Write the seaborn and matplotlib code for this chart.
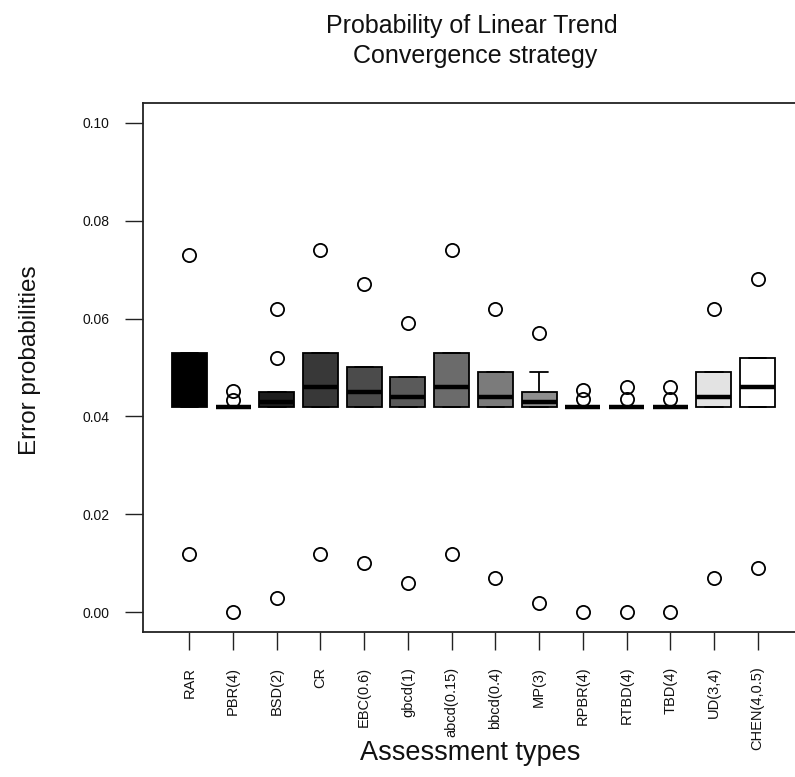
import matplotlib
matplotlib.use("Agg")
import matplotlib.pyplot as plt
import seaborn as sns
import pandas as pd

# Assessment types on the x axis
categories = ["RAR", "PBR(4)", "BSD(2)", "CR", "EBC(0.6)", "gbcd(1)", "abcd(0.15)",
              "bbcd(0.4)", "MP(3)", "RPBR(4)", "RTBD(4)", "TBD(4)", "UD(3,4)", "CHEN(4,0.5)"]

# Five-number summaries of the error probabilities per assessment type
q1_vals = [0.042, 0.042, 0.042, 0.042, 0.042, 0.042, 0.042,
           0.042, 0.042, 0.042, 0.042, 0.042, 0.042, 0.042]
median_vals = [0.046, 0.042, 0.043, 0.046, 0.045, 0.044, 0.046,
               0.044, 0.043, 0.042, 0.042, 0.042, 0.044, 0.046]
q3_vals = [0.053, 0.042, 0.045, 0.053, 0.050, 0.048, 0.053,
           0.049, 0.045, 0.042, 0.042, 0.042, 0.049, 0.052]
whisker_low = [0.042, 0.042, 0.042, 0.042, 0.042, 0.042, 0.042,
               0.042, 0.042, 0.042, 0.042, 0.042, 0.042, 0.042]
whisker_high = [0.053, 0.042, 0.045, 0.053, 0.050, 0.048, 0.053,
                0.049, 0.049, 0.042, 0.042, 0.042, 0.049, 0.052]
outlier_vals = [
    [0.012, 0.073],
    [0.000, 0.0434, 0.0453],
    [0.003, 0.052, 0.062],
    [0.012, 0.074],
    [0.010, 0.067],
    [0.006, 0.059],
    [0.012, 0.074],
    [0.007, 0.062],
    [0.002, 0.057],
    [0.000, 0.0436, 0.0455],
    [0.000, 0.0436, 0.046],
    [0.000, 0.0436, 0.046],
    [0.007, 0.062],
    [0.009, 0.068],
]

# Gray ramp from black to white across the assessment types
box_colors = ["#000000", "#141414", "#1e1e1e", "#383838", "#4b4b4b", "#5a5a5a", "#6b6b6b",
              "#7b7b7b", "#8e8e8e", "#a2a2a2", "#b6b6b6", "#cacaca", "#e3e3e3", "#ffffff"]


def sample_from_summary(q1, med, q3, wlo, whi, outliers, k=8):
    """Build an observation list whose quartiles, whiskers and outliers are the given ones."""
    lo = [v for v in outliers if v < q1]
    hi = [v for v in outliers if v > q3]
    side = max(len(lo), len(hi)) + 1
    a = side - len(lo)
    b = side - len(hi)
    return lo + [wlo] * a + [q1] * k + [med] + [q3] * k + [whi] * b + hi


rows = []
for i, cat in enumerate(categories):
    vals = sample_from_summary(q1_vals[i], median_vals[i], q3_vals[i],
                               whisker_low[i], whisker_high[i], outlier_vals[i])
    rows += [(cat, v) for v in vals]
df = pd.DataFrame(rows, columns=["type", "prob"])

sns.set_style("ticks")
plt.rcParams["font.family"] = ["Liberation Sans", "DejaVu Sans"]

W, H = 795, 777
fig = plt.figure(figsize=(W / 100, H / 100), dpi=100)
left, right, top, bottom = 143, 804, 103, 632
ax = fig.add_axes([left / W, 1 - bottom / H, (right - left) / W, (bottom - top) / H])

sns.boxplot(
    data=df, x="type", y="prob", hue="type", order=categories, hue_order=categories,
    palette=box_colors, saturation=1, legend=False, width=0.8, linewidth=1.3,
    linecolor="black", whis=1.5, ax=ax,
    flierprops=dict(marker="o", markersize=9.5, markerfacecolor="none",
                    markeredgecolor="black", markeredgewidth=1.3),
    medianprops=dict(color="black", linewidth=3.2),
)

ax.set_xlim(-1.06, len(categories) - 1 + 1.06)
ax.set_ylim(-0.004, 0.104)
ax.set_yticks([0.00, 0.02, 0.04, 0.06, 0.08, 0.10])
ax.set_yticklabels(["0.00", "0.02", "0.04", "0.06", "0.08", "0.10"])
ax.set_xticks(range(len(categories)))
ax.set_xticklabels(categories, rotation=90)
ax.tick_params(axis="both", length=13, width=1.0, pad=11,
               color="#222222", labelcolor="#111111")
ax.tick_params(axis="y", labelsize=10)
ax.tick_params(axis="x", labelsize=10.5, pad=12)
ax.set_xlabel("")
ax.set_ylabel("")

for side in ["left", "bottom", "top"]:
    ax.spines[side].set_visible(True)
    ax.spines[side].set_linewidth(1.3)
    ax.spines[side].set_color("#222222")
ax.spines["right"].set_visible(False)

fig.text(472 / W, 1 - 41 / H, "Probability of Linear Trend\n Convergence strategy",
         ha="center", va="center", fontsize=18, linespacing=1.3, color="#111111")
fig.text(30 / W, 1 - 360 / H, "Error probabilities", rotation=90,
         ha="center", va="center", fontsize=17.5, color="#111111")
fig.text(470 / W, 1 - 760 / H, "Assessment types",
         ha="center", va="baseline", fontsize=19.5, color="#111111")

fig.savefig("out.png", dpi=100)
